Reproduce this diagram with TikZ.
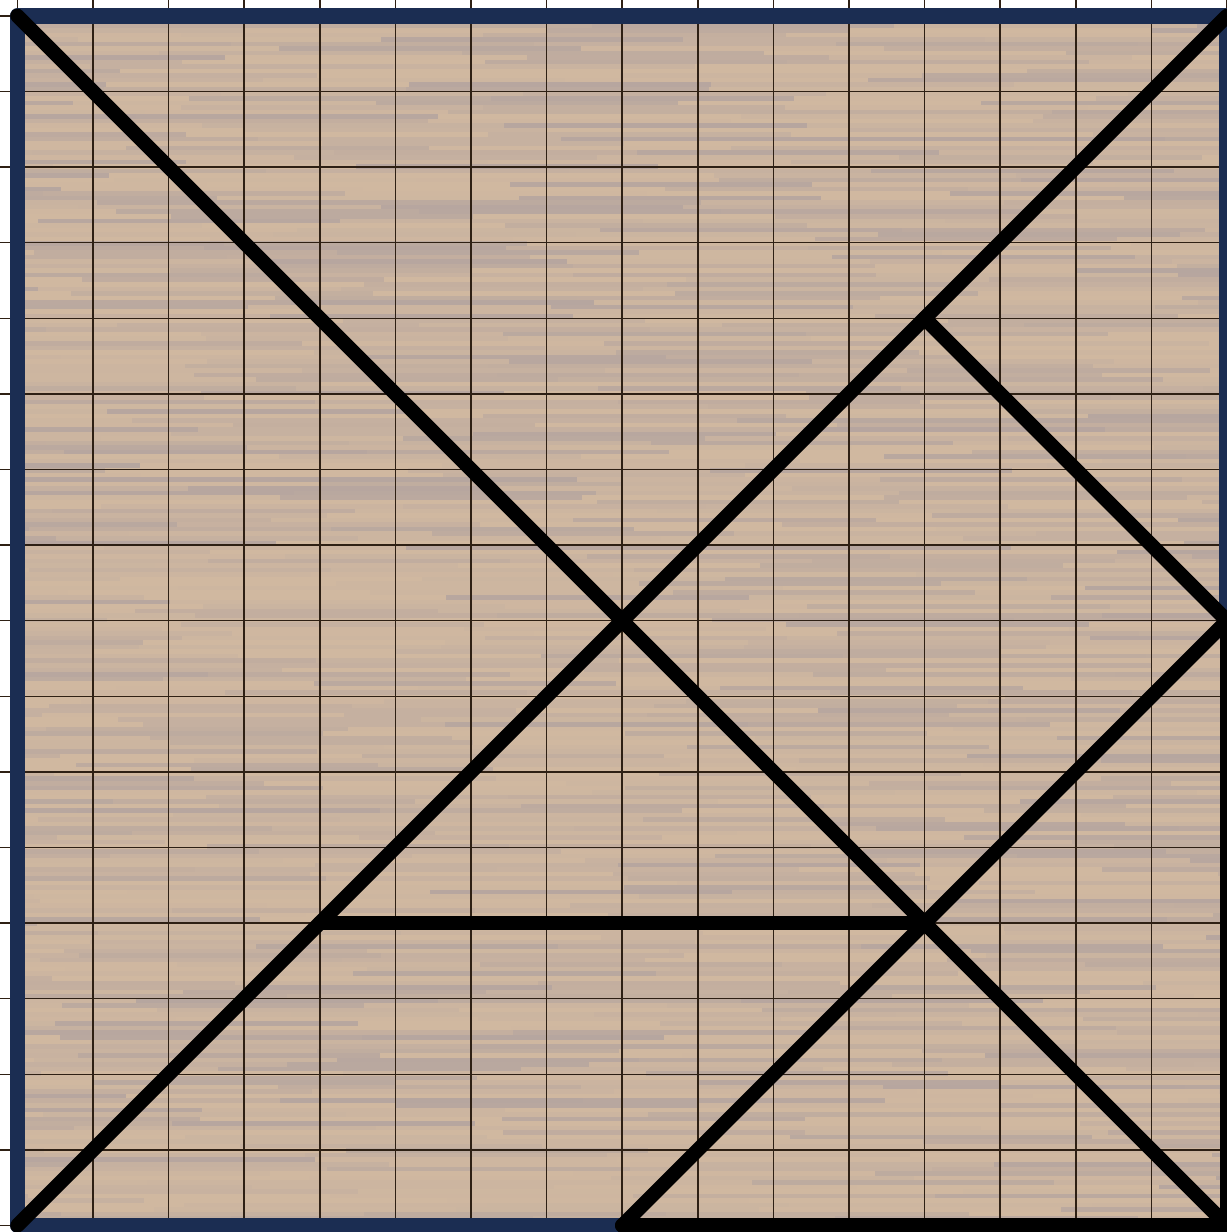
\documentclass[tikz,border=0pt]{standalone}
\usepackage{xcolor}
\usepackage{tikz}
\usetikzlibrary{calc}
\definecolor{boardnavy}{HTML}{1B2D52}
\definecolor{woodlight}{HTML}{D0B8A0}
\definecolor{woodmid}{HTML}{C6AE98}
\definecolor{wooddark}{HTML}{A0969E}
\definecolor{gridbrown}{HTML}{2E2014}
\tikzset{
  tgrid/.style={gridbrown, line width=0.55pt},
  tframe/.style={boardnavy, line width=5.8pt, line join=round, line cap=round},
  tcut/.style={black, line width=5.4pt, line join=round, line cap=round},
}

\begin{document}
\begin{tikzpicture}[x=1cm, y=1cm]
    \useasboundingbox (-0.23,-0.086) rectangle (15.993,16.21);
    \fill[white] (-0.23,-0.086) rectangle (15.993,16.21);
    % corners and cut points of the tangram
    \coordinate (bl) at (0,0);
    \coordinate (br) at (16,0);
    \coordinate (tl) at (0,16);
    \coordinate (tr) at (16,16);
    \coordinate (bm) at (8,0);
    \coordinate (rm) at (16,8);
    \coordinate (ctr) at (8,8);
    \coordinate (ur) at (12,12);
    \coordinate (ll) at (4,4);
    \coordinate (lr) at (12,4);
    % wood board
    \begin{scope}
      \clip (bl) rectangle (tr);
      \fill[woodmid] (bl) rectangle (tr);
      \pgfmathsetseed{42}
      \foreach \r in {0,...,265} {
        \pgfmathsetmacro\off{rnd*4}
        \foreach \k in {0,...,4} {
          \pgfmathsetmacro\u{rnd}
          \pgfmathtruncatemacro\shade{55*\u*\u}
          \fill[wooddark!\shade!woodlight] ({\off+4*\k-4},{\r*0.06}) rectangle ++(4.02,0.062);
        }
      }
    \end{scope}
    \draw[tgrid] (-1,-1) grid (17,17);
    % outline
    \draw[tframe] (bm) -- (bl) -- (tl) -- (tr) -- (rm);
    % pieces
    \draw[tcut] (rm) -- (br) -- (bm);
    \draw[tcut] (tl) -- (br);
    \draw[tcut] (bl) -- (tr);
    \draw[tcut] (ur) -- (rm) -- (bm);
    \draw[tcut] (ll) -- (lr);
\end{tikzpicture}
\end{document}
